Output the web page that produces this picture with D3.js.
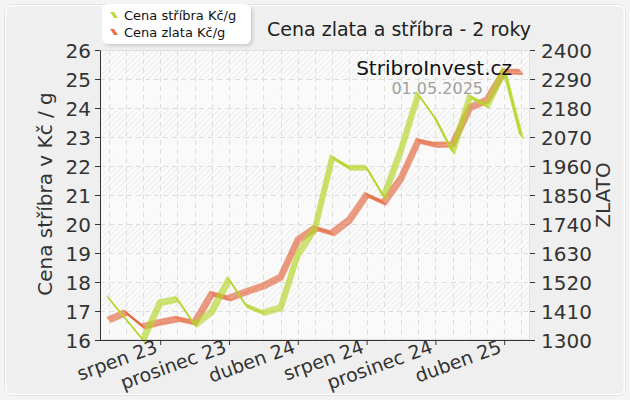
<!DOCTYPE html>
<html><head><meta charset="utf-8">
<script src="https://cdn.jsdelivr.net/npm/d3@7"></script>
<style>
html,body{margin:0;padding:0;background:#f3f3f3;}
svg{display:block;font-family:"DejaVu Sans",Verdana,sans-serif;}
</style></head>
<body><svg id="c" width="630" height="400"></svg>
<script>
// ---- data ----
const months = ["květen 23","červen 23","červenec 23","srpen 23","září 23","říjen 23","listopad 23","prosinec 23",
  "leden 24","únor 24","březen 24","duben 24","květen 24","červen 24","červenec 24","srpen 24","září 24","říjen 24",
  "listopad 24","prosinec 24","leden 25","únor 25","březen 25","duben 25","květen 25"];
const xTickLabels = ["srpen 23","prosinec 23","duben 24","srpen 24","prosinec 24","duben 25"];
const silver = [17.44,16.72,16.0,17.29,17.41,16.52,16.98,18.09,17.18,16.94,17.11,18.95,19.85,22.29,21.94,21.94,20.94,22.55,24.47,23.64,22.49,24.39,24.08,25.31,23.01];
const gold = [1376,1404,1351,1367,1380,1366,1475,1458,1483,1505,1538,1679,1724,1705,1755,1850,1821,1913,2055,2040,2042,2181,2210,2318,2317];
const leftTicks = [16,17,18,19,20,21,22,23,24,25,26];
const rightTicks = [1300,1410,1520,1630,1740,1850,1960,2070,2180,2290,2400];
const seriesNames = ["Cena stříbra Kč/g","Cena zlata Kč/g"];
const title = "Cena zlata a stříbra - 2 roky";
const leftTitle = "Cena stříbra v Kč / g";
const rightTitle = "ZLATO";
const watermark = "StribroInvest.cz";
const dateText = "01.05.2025";

// ---- layout ----
const W=630,H=400;
const P={l:100,r:530,t:50,b:340};
const FONT='"DejaVu Sans",Verdana,sans-serif';
const GREEN="#b6d62a", ORANGE="#e2643a";

const svg=d3.select("#c");
const defs=svg.append("defs");
const pat=defs.append("pattern").attr("id","hatch").attr("patternUnits","userSpaceOnUse")
  .attr("width",4).attr("height",4).attr("patternTransform","rotate(45)");
pat.append("rect").attr("width",4).attr("height",4).attr("fill","#fbfbfb");
pat.append("line").attr("x1",0).attr("y1",0).attr("x2",0).attr("y2",4).attr("stroke","#e8e8e8").attr("stroke-width",1.4);
const sh=defs.append("filter").attr("id","sh").attr("x","-20%").attr("y","-20%").attr("width","150%").attr("height","160%");
sh.append("feDropShadow").attr("dx",2).attr("dy",2).attr("stdDeviation",1.5).attr("flood-color","#000").attr("flood-opacity",0.15);

// background frame
svg.append("rect").attr("x",0).attr("y",0).attr("width",W).attr("height",H).attr("fill","#f4f4f4");
svg.append("rect").attr("x",5.5).attr("y",5.5).attr("width",W-11).attr("height",H-11).attr("rx",6)
  .attr("fill","#efefef").attr("stroke","#ffffff").attr("stroke-width",1.5);
svg.append("rect").attr("x",4.5).attr("y",4.5).attr("width",W-9).attr("height",H-9).attr("rx",7)
  .attr("fill","none").attr("stroke","#dcdcdc").attr("stroke-width",0.8);

// scales
const x=d3.scalePoint().domain(months).range([P.l,P.r]).padding(0.5);
const yL=d3.scaleLinear().domain([16,26]).range([P.b,P.t]);
const yR=d3.scaleLinear().domain([1300,2400]).range([P.b,P.t]);

// plot area
svg.append("rect").attr("x",P.l).attr("y",P.t).attr("width",P.r-P.l).attr("height",P.b-P.t).attr("fill","url(#hatch)");
for(let i=0;i<leftTicks.length-1;i+=2){
  svg.append("rect").attr("x",P.l).attr("width",P.r-P.l)
    .attr("y",yL(leftTicks[i+1])).attr("height",yL(leftTicks[i])-yL(leftTicks[i+1]))
    .attr("fill","#fafafa").attr("fill-opacity",0.8);
}
svg.append("rect").attr("x",P.l+0.5).attr("y",P.t+0.5).attr("width",P.r-P.l-1).attr("height",P.b-P.t-1)
  .attr("fill","none").attr("stroke","#e2e2e2");
// grid
const g=svg.append("g").attr("stroke","#dedede").attr("stroke-dasharray","5,4").attr("stroke-width",1);
leftTicks.slice(1).forEach(v=>g.append("line").attr("x1",P.l).attr("x2",P.r).attr("y1",Math.round(yL(v))+0.5).attr("y2",Math.round(yL(v))+0.5));
months.forEach(m=>g.append("line").attr("x1",Math.round(x(m))+0.5).attr("x2",Math.round(x(m))+0.5).attr("y1",P.t).attr("y2",P.b));

// ribbons
function ribbon(vals, yScale, color){
  const n=8, ox=4, oy=5;
  const gr=svg.append("g");
  for(let k=0;k<n;k++){
    const t=k/(n-1)-0.5;
    const line=d3.line().x((d,i)=>x(months[i])+ox*t).y(d=>yScale(d)+oy*t);
    gr.append("path").attr("d",line(vals)).attr("fill","none").attr("stroke",color)
      .attr("stroke-width",1.1).attr("stroke-opacity",0.6).attr("stroke-linejoin","round");
  }
}
ribbon(gold,yR,ORANGE);
ribbon(silver,yL,GREEN);

// axes
const axL=svg.append("g").attr("transform",`translate(${P.l},0)`)
  .call(d3.axisLeft(yL).tickValues(leftTicks).tickSize(5).tickSizeOuter(0).tickPadding(4).tickFormat(d3.format("d")));
const axR=svg.append("g").attr("transform",`translate(${P.r},0)`)
  .call(d3.axisRight(yR).tickValues(rightTicks).tickSize(5).tickSizeOuter(0).tickPadding(6).tickFormat(d3.format("d")));
axR.select(".domain").remove();
const tickMonths=months.filter(m=>xTickLabels.includes(m));
const axB=svg.append("g").attr("transform",`translate(0,${P.b})`)
  .call(d3.axisBottom(x).tickValues(tickMonths).tickSize(5).tickSizeOuter(0));
axB.select(".domain").remove();
svg.append("line").attr("x1",P.l).attr("x2",P.r+5).attr("y1",P.b+0.5).attr("y2",P.b+0.5).attr("stroke","#333");
[axL,axR,axB].forEach(a=>{
  a.selectAll("line").attr("stroke","#333");
  a.select(".domain").attr("stroke","#333");
  a.selectAll("text").attr("font-family",FONT).attr("font-size",20).attr("fill","#333");
});
axL.selectAll("text").attr("dy","0.35em");
axR.selectAll("text").attr("dy","0.35em");
axB.selectAll("text").attr("text-anchor","end").attr("x",0).attr("y",0).attr("dy",0).attr("font-size",19)
  .attr("transform","translate(-2,12) rotate(-20)");

// titles
svg.append("text").attr("x",399).attr("y",36).attr("text-anchor","middle").attr("font-family",FONT)
  .attr("font-size",19).attr("fill","#222").text(title);
svg.append("text").attr("transform","translate(52,194) rotate(-90)").attr("text-anchor","middle")
  .attr("font-family",FONT).attr("font-size",20).attr("fill","#333").text(leftTitle);
svg.append("text").attr("transform","translate(610,195) rotate(-90)").attr("text-anchor","middle")
  .attr("font-family",FONT).attr("font-size",20).attr("fill","#333").text(rightTitle);
svg.append("text").attr("x",512).attr("y",75).attr("text-anchor","end").attr("font-family",FONT)
  .attr("font-size",20).attr("fill","#111").text(watermark);
svg.append("text").attr("x",483).attr("y",94).attr("text-anchor","end").attr("font-family",FONT)
  .attr("font-size",16).attr("fill","#a0a0a0").text(dateText);

// legend
const lg=svg.append("g");
lg.append("rect").attr("x",102).attr("y",4).attr("width",149).attr("height",40).attr("rx",6)
  .attr("fill","#ffffff").attr("filter","url(#sh)");
const colors=[GREEN,ORANGE];
seriesNames.forEach((s,i)=>{
  const cy=15+i*17;
  lg.append("path").attr("d",`M${110},${cy-3} l4,0 l4,6 l-4,0 z`).attr("fill",colors[i]).attr("fill-opacity",0.9);
  lg.append("text").attr("x",124).attr("y",cy+5).attr("font-family",FONT).attr("font-size",13).attr("fill","#111").text(s);
});
</script></body></html>
